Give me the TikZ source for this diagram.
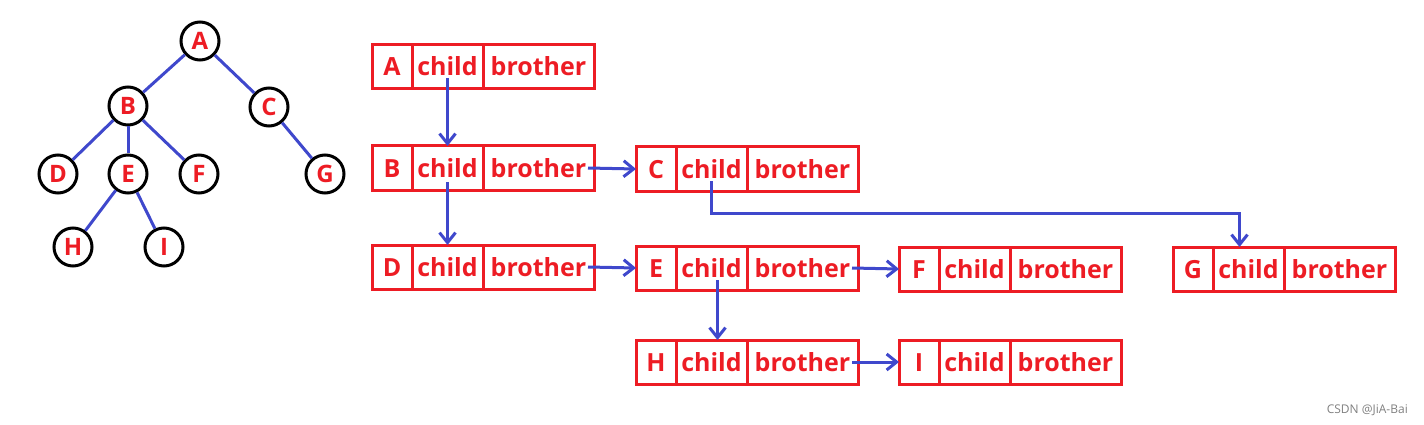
\documentclass[tikz,border=0pt]{standalone}
\usepackage{fontspec}
\setmainfont{Open Sans}
\usetikzlibrary{arrows.meta,calc}
\definecolor{pred}{RGB}{237,28,36}
\definecolor{pblue}{RGB}{63,72,204}
\tikzset{
  cell/.style={draw=pred, line width=3pt, minimum height=44pt, inner sep=0pt, outer sep=0pt,
    anchor=north west, text=pred, font=\bfseries\fontsize{25}{25}\selectfont,
    text height=18pt, text depth=0pt},
  tnode/.style={circle, draw=black, line width=3pt, minimum size=38pt, inner sep=0pt,
    text=pred, font=\bfseries\fontsize{24}{24}\selectfont},
  tedge/.style={draw=pblue, line width=3pt},
  link/.style={draw=pblue, line width=3pt, -{Straight Barb[length=10pt,width=16pt]}},
  wmark/.style={text=gray, font=\fontsize{12}{12}\selectfont, anchor=east, inner sep=0pt},
}
\newcommand\recnode[4]{%
  \node[cell, minimum width=40pt] (#1l) at (#3,#4) {#2};
  \node[cell, minimum width=71pt] (#1c) at (#1l.north east) {child};
  \node[cell, minimum width=111pt] (#1b) at (#1c.north east) {brother};
}
\begin{document}
\begin{tikzpicture}[x=1pt,y=-1pt]
\useasboundingbox (0,0) rectangle (1424,425);
% tree
\node[tnode] (A) at (200,41) {A};
\node[tnode] (B) at (128,106) {B};
\node[tnode] (C) at (269,107) {C};
\node[tnode] (D) at (58,174) {D};
\node[tnode] (E) at (128,174) {E};
\node[tnode] (F) at (199,174) {F};
\node[tnode] (G) at (325,174) {G};
\node[tnode] (H) at (73,247) {H};
\node[tnode] (I) at (164,247) {I};
\draw[tedge] (A) -- (B);
\draw[tedge] (A) -- (C);
\draw[tedge] (B) -- (D);
\draw[tedge] (B) -- (E);
\draw[tedge] (B) -- (F);
\draw[tedge] (C) -- (G);
\draw[tedge] (E) -- (H);
\draw[tedge] (E) -- (I);
% records
\recnode{RA}{A}{372}{45}
\recnode{RB}{B}{372}{146}
\recnode{RC}{C}{636}{147}
\recnode{RD}{D}{372}{245}
\recnode{RE}{E}{636}{246}
\recnode{RF}{F}{899}{247}
\recnode{RG}{G}{1173}{247}
\recnode{RH}{H}{636}{340}
\recnode{RI}{I}{899}{340}
% links
\draw[link] ([yshift=11pt]RAc.south) -- (RBc.north);
\draw[link] ([yshift=8pt]RBc.south) -- (RDc.north);
\draw[link] ([xshift=-6pt]RBb.east) -- (RCl.west);
\draw[link] ([xshift=-6pt]RDb.east) -- (REl.west);
\draw[link] ([xshift=-6pt]REb.east) -- (RFl.west);
\draw[link] ([xshift=-6pt]RHb.east) -- (RIl.west);
\coordinate (cs) at ([yshift=10pt]RCc.south);
\coordinate (ge) at ([xshift=-9pt]RGc.north);
\draw[link] (cs) -- (cs |- 0,213) -- (ge |- 0,213) -- (ge);
\coordinate (es) at ([xshift=6pt,yshift=10pt]REc.south);
\draw[link] (es) -- (es |- RHc.north);
% watermark
\node[wmark] (wm) at (1408,410) {CSDN @JiA-Bai};
\end{tikzpicture}
\end{document}
